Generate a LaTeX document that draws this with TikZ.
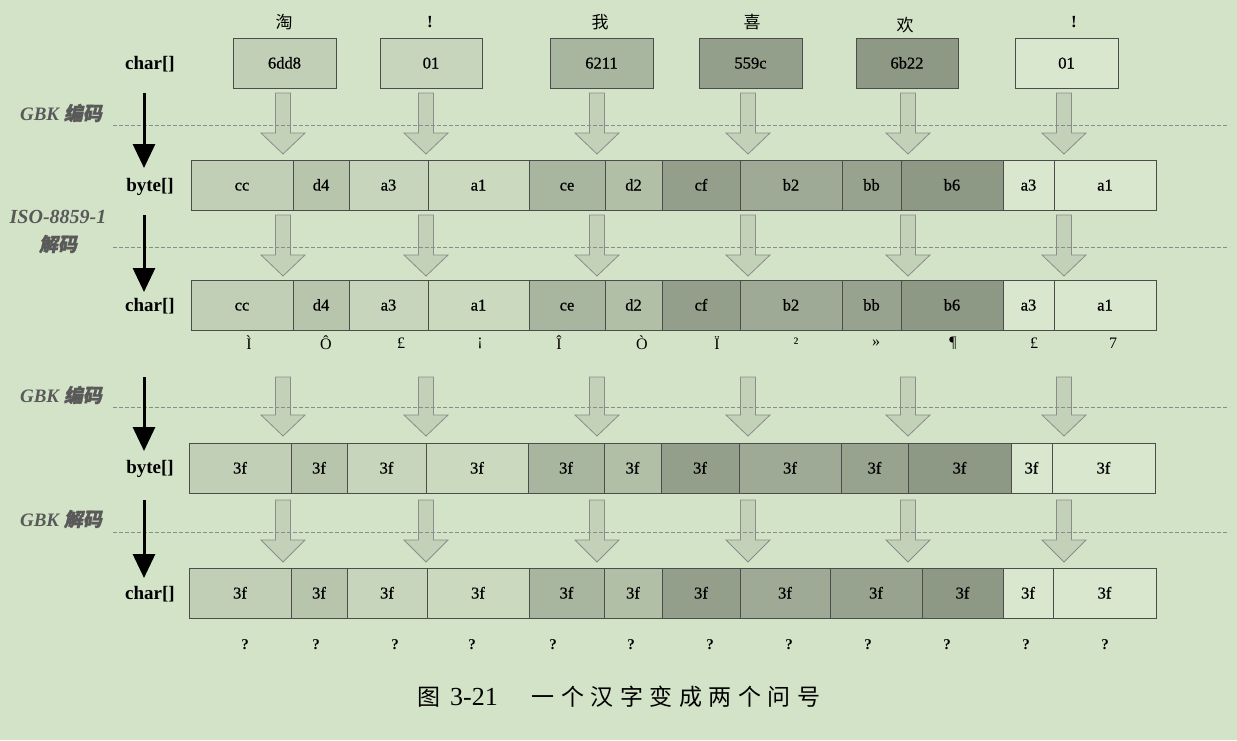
\documentclass[tikz,border=0pt]{standalone}
\usepackage{fontspec}
\setmainfont{Liberation Serif}
\newfontfamily\semib[FakeBold=0.7]{Liberation Serif}
\newfontfamily\cjk{Noto Sans CJK SC}
\newfontfamily\cjkit[FakeSlant=0.2,FakeBold=1.5]{Noto Sans CJK SC}
\usetikzlibrary{arrows.meta}
\definecolor{bg}{HTML}{D3E3C7}
\colorlet{p0}{bg!85!white}
\colorlet{p1}{bg!96!black}
\colorlet{pa}{bg!94!black}
\colorlet{p2}{bg!91!black}
\colorlet{p3}{bg!87!black}
\colorlet{p4}{bg!80!black}
\colorlet{p5}{bg!84!black}
\colorlet{p6}{bg!70!black}
\colorlet{p7}{bg!75!black}
\colorlet{p8}{bg!72!black}
\colorlet{p9}{bg!67!black}
\colorlet{afill}{bg!92!black}
\newcommand\cellrow[3]{%
  \foreach \a/\b/\t/\c [count=\i] in {#3} {
    \node[cell, fill=\c, minimum width={(\b-\a)*1pt}] (#2\i) at ({(\a+\b)/2},#1) {\t};
  }}
\newcommand\harrows[3]{%
  \foreach \x in {283,426,597,748,908,1064} {
    \draw[hollow] (\x-7.5,#1) -- (\x+7.5,#1) -- (\x+7.5,#2) -- (\x+22,#2) -- (\x,#3) -- (\x-22,#2) -- (\x-7.5,#2) -- cycle;
  }}
\begin{document}
\begin{tikzpicture}[x=1pt,y=-1pt,
  cell/.style={draw=black!70, line width=0.8pt, inner sep=0pt, outer sep=0pt, minimum height=50pt, text height=11pt, text depth=0pt, font=\semib\fontsize{16.5}{16.5}\selectfont},
  rowlbl/.style={text height=13pt, text depth=3pt, font=\bfseries\fontsize{19}{19}\selectfont},
  oplbl/.style={text=black!65, font=\bfseries\itshape\fontsize{19}{19}\selectfont},
  toplbl/.style={font=\fontsize{17}{17}\selectfont},
  hollow/.style={fill=afill, draw=black!45, line width=0.8pt},
  blk/.style={line width=3pt, -{Triangle[width=22pt,length=24pt]}},
  sepline/.style={draw=black!45, dash pattern=on 4pt off 2pt, line width=0.9pt},
  small/.style={font=\fontsize{16}{16}\selectfont},
  qm/.style={font=\bfseries\fontsize{15}{15}\selectfont}
]
\fill[bg] (0,0) rectangle (1237,740);
\useasboundingbox (0,0) rectangle (1237,740);

% top labels
\node[toplbl] (t1) at (284,22) {\cjk 淘};
\node[toplbl] (t2) at (430,22) {\bfseries !};
\node[toplbl] (t3) at (600,22) {\cjk 我};
\node[toplbl] (t4) at (752,22) {\cjk 喜};
\node[toplbl] (t5) at (905,25) {\cjk 欢};
\node[toplbl] (t6) at (1074,22) {\bfseries !};

% row 1
\cellrow{63}{ra}{233/336/6dd8/p2, 380/482/01/pa, 550/653/6211/p4, 699/802/559c/p6, 856/958/6b22/p9, 1015/1118/01/p0}

% row 2
\cellrow{185}{rb}{191/293/cc/p2, 293/349/d4/p3, 349/428/a3/pa, 428/529/a1/p1, 529/605/ce/p4, 605/662/d2/p5, 662/740/cf/p6, 740/842/b2/p7, 842/901/bb/p8, 901/1003/b6/p9, 1003/1054/a3/p0, 1054/1156/a1/p0}

% row 3
\cellrow{305}{rc}{191/293/cc/p2, 293/349/d4/p3, 349/428/a3/pa, 428/529/a1/p1, 529/605/ce/p4, 605/662/d2/p5, 662/740/cf/p6, 740/842/b2/p7, 842/901/bb/p8, 901/1003/b6/p9, 1003/1054/a3/p0, 1054/1156/a1/p0}

% row 4
\cellrow{468}{rd}{189/291/3f/p2, 291/347/3f/p3, 347/426/3f/pa, 426/528/3f/p1, 528/604/3f/p4, 604/661/3f/p5, 661/739/3f/p6, 739/841/3f/p7, 841/908/3f/p8, 908/1011/3f/p9, 1011/1052/3f/p0, 1052/1155/3f/p0}

% row 5
\cellrow{593}{re}{189/291/3f/p2, 291/347/3f/p3, 347/427/3f/pa, 427/529/3f/p1, 529/604/3f/p4, 604/662/3f/p5, 662/740/3f/p6, 740/830/3f/p7, 830/922/3f/p8, 922/1003/3f/p9, 1003/1053/3f/p0, 1053/1156/3f/p0}

% decoded characters
\foreach \x/\t [count=\i] in {249/Ì, 326/Ô, 401/£, 480/¡, 559/Î, 642/Ò, 717/Ï, 796/², 876/», 953/¶, 1034/£, 1113/7}
  \node[small] (ch\i) at (\x,343) {\t};

% question marks
\foreach \x [count=\i] in {245,316,395,472,553,631,710,789,868,947,1026,1105}
  \node[qm] (q\i) at (\x,645) {?};

% hollow arrows
\harrows{93}{133}{154}
\harrows{215}{255}{276}
\harrows{377}{415}{436}
\harrows{500}{540}{562}

% dashed separators
\coordinate (d1a) at (113,125); \coordinate (d1b) at (1229,125);
\coordinate (d2a) at (113,247); \coordinate (d2b) at (1229,247);
\coordinate (d3a) at (113,407); \coordinate (d3b) at (1229,407);
\coordinate (d4a) at (113,532); \coordinate (d4b) at (1229,532);
\draw[sepline] (d1a) -- (d1b);
\draw[sepline] (d2a) -- (d2b);
\draw[sepline] (d3a) -- (d3b);
\draw[sepline] (d4a) -- (d4b);

% left row labels
\node[rowlbl] (l1) at (150,64) {char[]};
\node[rowlbl] (l2) at (150,186) {byte[]};
\node[rowlbl] (l3) at (150,306) {char[]};
\node[rowlbl] (l4) at (150,468) {byte[]};
\node[rowlbl] (l5) at (150,594) {char[]};

% operation labels
\node[oplbl] (o1) at (61,113) {GBK {\cjkit 编码}};
\node[oplbl, font=\bfseries\itshape\fontsize{20}{20}\selectfont] (o2) at (58,217) {ISO-8859-1};
\node[oplbl] (o2b) at (58,244) {\cjkit 解码};
\node[oplbl] (o3) at (61,395) {GBK {\cjkit 编码}};
\node[oplbl] (o4) at (61,519) {GBK {\cjkit 解码}};

% black arrows
\coordinate (b1s) at (144,93);  \coordinate (b1e) at (144,168);
\coordinate (b2s) at (144,215); \coordinate (b2e) at (144,292);
\coordinate (b3s) at (144,377); \coordinate (b3e) at (144,451);
\coordinate (b4s) at (144,500); \coordinate (b4e) at (144,578);
\draw[blk] (b1s) -- (b1e);
\draw[blk] (b2s) -- (b2e);
\draw[blk] (b3s) -- (b3e);
\draw[blk] (b4s) -- (b4e);

% caption
\node[font=\fontsize{23}{23}\selectfont, anchor=west, inner sep=0pt] (cap) at (417,697)
  {\cjk 图\kern10pt{\rmfamily\fontsize{26}{26}\selectfont 3-21}\kern34pt 一\kern6.5pt 个\kern6.5pt 汉\kern6.5pt 字\kern6.5pt 变\kern6.5pt 成\kern6.5pt 两\kern6.5pt 个\kern6.5pt 问\kern6.5pt 号};
\end{tikzpicture}
\end{document}
